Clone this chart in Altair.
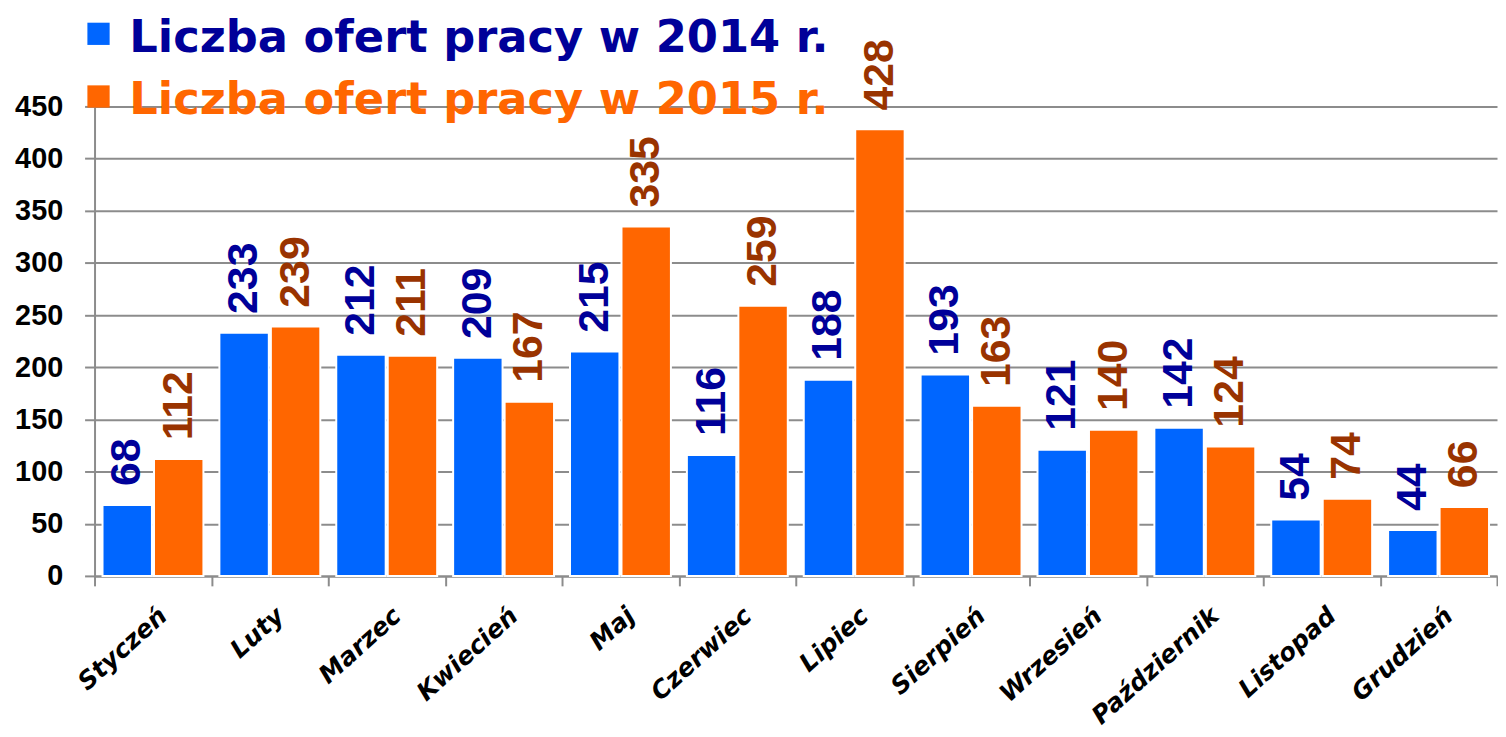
import altair as alt
import pandas as pd

months = ["Styczeń", "Luty", "Marzec", "Kwiecień", "Maj", "Czerwiec", "Lipiec",
          "Sierpień", "Wrzesień", "Październik", "Listopad", "Grudzień"]
v2014 = [68, 233, 212, 209, 215, 116, 188, 193, 121, 142, 54, 44]
v2015 = [112, 239, 211, 167, 335, 259, 428, 163, 140, 124, 74, 66]
series = ["Liczba ofert pracy w 2014 r.", "Liczba ofert pracy w 2015 r."]
bar_colors = ["#0066FF", "#FF6600"]
value_colors = ["#000099", "#993300"]
legend_text_colors = ["#000099", "#FF6600"]
y_ticks = list(range(0, 451, 50))

rows = []
for i, m in enumerate(months):
    rows.append({"month": m, "series": series[0], "value": v2014[i]})
    rows.append({"month": m, "series": series[1], "value": v2015[i]})
df = pd.DataFrame(rows)

x = alt.X(
    "month:N", sort=months,
    scale=alt.Scale(paddingInner=0, paddingOuter=0),
    axis=alt.Axis(
        title=None, labelAngle=-42, labelFont="DejaVu Sans", labelFontSize=25,
        labelFontWeight="bold", labelFontStyle="italic", labelColor="#000000",
        tickBand="extent", tickSize=10, tickColor="#8c8c8c", tickWidth=2,
        domainColor="#8c8c8c", domainWidth=2, labelPadding=17, grid=False,
        labelAlign="right", labelBaseline="top", labelOffset=2, labelLimit=300,
    ),
)
xo = alt.XOffset("series:N", sort=series,
                 scale=alt.Scale(paddingInner=0.04, paddingOuter=0.155))
y = alt.Y(
    "value:Q",
    scale=alt.Scale(domain=[0, 450], nice=False),
    axis=alt.Axis(
        title=None, values=y_ticks, labelFont="Liberation Sans", labelFontSize=29,
        labelFontWeight="bold", labelColor="#000000", tickSize=10,
        tickColor="#8c8c8c", tickWidth=2, domainColor="#8c8c8c", domainWidth=2,
        gridColor="#8c8c8c", gridWidth=2, labelPadding=22,
    ),
)

bars = alt.Chart(df).mark_bar(stroke="white", strokeWidth=2).encode(
    x=x, xOffset=xo, y=y,
    color=alt.Color("series:N", scale=alt.Scale(domain=series, range=bar_colors), legend=None),
)

labels = alt.Chart(df).mark_text(
    angle=270, align="left", baseline="middle", dx=19,
    font="Liberation Sans", fontSize=43, fontWeight="bold",
).encode(
    x=x, xOffset=xo, y=y, text="value:Q",
    color=alt.Color("series:N", scale=alt.Scale(domain=series, range=value_colors), legend=None),
)

leg1 = pd.DataFrame({"series": [series[0]]})
leg2 = pd.DataFrame({"series": [series[1]]})

sq1 = alt.Chart(leg1).mark_square(size=500, color=bar_colors[0], opacity=1).encode(
    x=alt.value(4), y=alt.value(-73))
sq2 = alt.Chart(leg2).mark_square(size=500, color=bar_colors[1], opacity=1).encode(
    x=alt.value(4), y=alt.value(-10))
t1 = alt.Chart(leg1).mark_text(
    align="left", baseline="alphabetic", font="DejaVu Sans", fontSize=45,
    fontWeight="bold", color=legend_text_colors[0],
).encode(x=alt.value(35), y=alt.value(-55), text="series:N")
t2 = alt.Chart(leg2).mark_text(
    align="left", baseline="alphabetic", font="DejaVu Sans", fontSize=45,
    fontWeight="bold", color=legend_text_colors[1],
).encode(x=alt.value(35), y=alt.value(8), text="series:N")

chart = alt.layer(bars, labels, sq1, sq2, t1, t2).resolve_scale(
    color="independent"
).properties(
    width=1410, height=472,
    autosize=alt.AutoSizeParams(type="none"),
    padding={"left": 87, "top": 97, "right": 1, "bottom": 159},
    background="white",
).configure_view(stroke=None)

chart.save("out.html", embed_options={"renderer": "svg", "actions": False})
